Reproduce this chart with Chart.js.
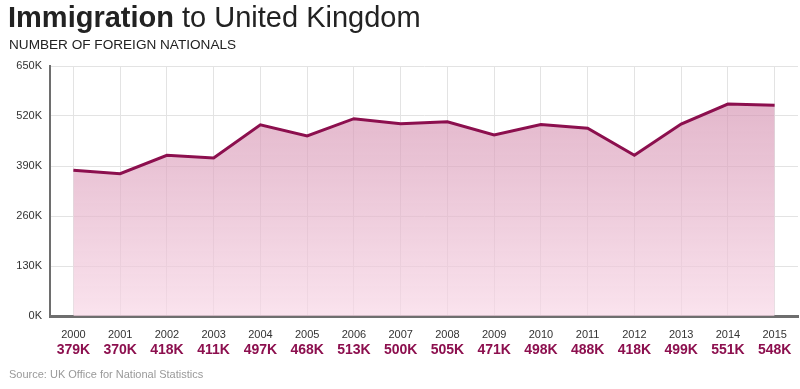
<!DOCTYPE html>
<html>
<head>
<meta charset="utf-8">
<script src="https://cdn.jsdelivr.net/npm/chart.js@4"></script>
<style>
  body { margin: 0; background: #fff; font-family: "Liberation Sans", Arial, sans-serif; }
  #wrap { position: relative; width: 800px; height: 389px; }
  #title { position: absolute; left: 8px; top: 1px; font-size: 29px; color: #222; white-space: nowrap; }
  #title b { font-weight: bold; }
  #sub { position: absolute; left: 9px; top: 37px; font-size: 13.6px; color: #222; }
  #source { position: absolute; left: 9px; top: 368px; font-size: 11px; color: #999; }
  canvas { position: absolute; left: 0; top: 0; }
</style>
</head>
<body>
<div id="wrap">
  <canvas id="chart" width="800" height="389"></canvas>
  <div id="title"><b>Immigration</b> to United Kingdom</div>
  <div id="sub">NUMBER OF FOREIGN NATIONALS</div>
  <div id="source">Source: UK Office for National Statistics</div>
</div>
<script>
// data
var years = ['2000', '2001', '2002', '2003', '2004', '2005', '2006', '2007',
             '2008', '2009', '2010', '2011', '2012', '2013', '2014', '2015'];
var immigrants = [379, 370, 418, 411, 497, 468, 513, 500, 505, 471, 498, 488, 418, 499, 551, 548]; // thousands
var valueLabels = immigrants.map(function (v) { return v + 'K'; });
var yTicks = [0, 130, 260, 390, 520, 650];

var ctx = document.getElementById('chart').getContext('2d');

var grad = ctx.createLinearGradient(0, 66, 0, 316);
grad.addColorStop(0, 'rgba(205, 130, 165, 0.62)');
grad.addColorStop(1, 'rgba(248, 215, 230, 0.7)');

new Chart(ctx, {
    type: 'line',
    data: {
        labels: years,
        datasets: [{
            label: 'Immigration',
            data: immigrants,
            borderColor: '#8c0f4e',
            borderWidth: 3,
            backgroundColor: grad,
            fill: 'origin',
            pointRadius: 0,
            tension: 0
        }]
    },
    options: {
        responsive: false,
        animation: false,
        layout: { padding: { top: 66, right: 2, left: 0, bottom: 29 } },
        plugins: { legend: { display: false }, tooltip: { enabled: false } },
        scales: {
            x: {
                type: 'category',
                position: 'bottom',
                offset: true,
                afterFit: function (scale) { scale.height = 24; },
                grid: { color: '#e3e3e3', drawTicks: false, offset: false },
                border: { color: '#6e6e6e', width: 3 },
                ticks: {
                    padding: 12,
                    maxRotation: 0,
                    autoSkip: false,
                    color: '#333',
                    font: { family: 'Liberation Sans', size: 11 }
                }
            },
            x2: {
                type: 'category',
                position: 'bottom',
                labels: valueLabels,
                offset: true,
                afterFit: function (scale) { scale.height = 20; },
                grid: { display: false, drawTicks: false },
                border: { display: false },
                ticks: {
                    padding: 2,
                    maxRotation: 0,
                    autoSkip: false,
                    color: '#8c0f4e',
                    font: { family: 'Liberation Sans', size: 14, weight: 'bold' }
                }
            },
            y: {
                min: 0,
                max: 650,
                afterBuildTicks: function (scale) {
                    scale.ticks = yTicks.map(function (v) { return { value: v }; });
                },
                afterFit: function (scale) { scale.width = 50; },
                grid: { color: '#e3e3e3', drawTicks: false },
                border: { color: '#6e6e6e', width: 2 },
                ticks: {
                    padding: 8,
                    color: '#333',
                    font: { family: 'Liberation Sans', size: 11 },
                    callback: function (v) { return v + 'K'; }
                }
            }
        }
    }
});
</script>
</body>
</html>
